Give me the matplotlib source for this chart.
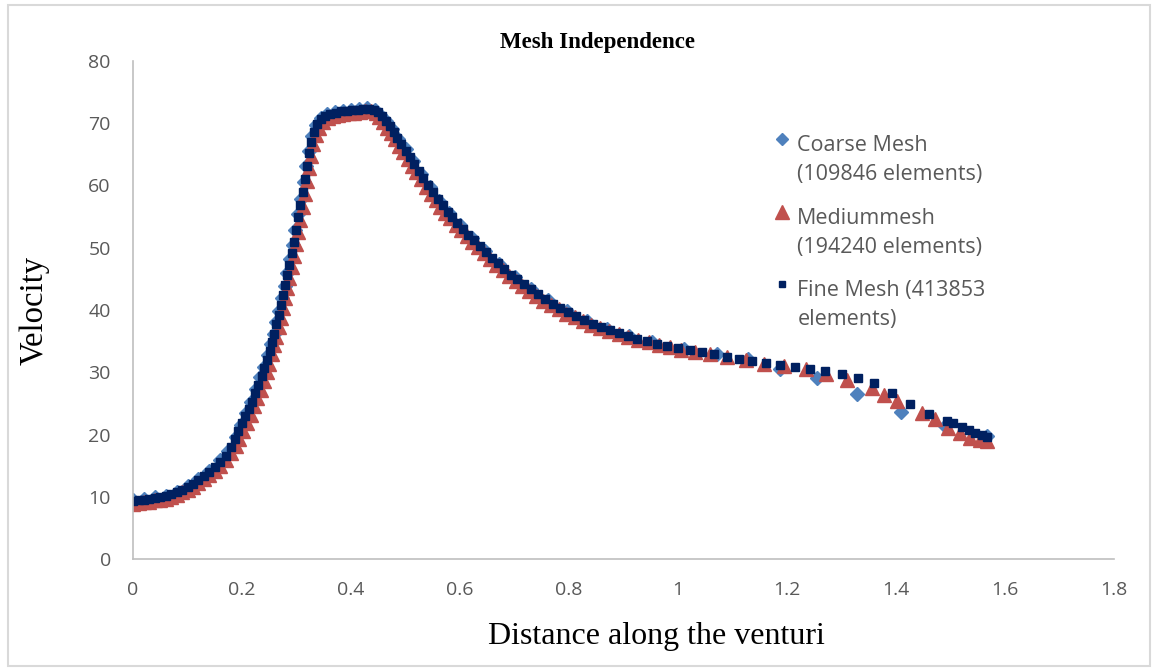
"""
Mesh independence study: velocity along the venturi for three mesh sizes.
"""

import matplotlib
matplotlib.use("Agg")
import matplotlib.pyplot as plt
from matplotlib.patches import Rectangle
from matplotlib.legend_handler import HandlerLine2D

# coarse mesh (109846 elements)
coarse_x = [0.000, 0.020, 0.040, 0.060, 0.080, 0.100, 0.120, 0.140, 0.160, 0.175,
            0.188, 0.198, 0.207, 0.216, 0.225, 0.233, 0.240, 0.247, 0.253, 0.258,
            0.263, 0.268, 0.273, 0.278, 0.283, 0.288, 0.293, 0.298, 0.303, 0.308,
            0.313, 0.318, 0.323, 0.329, 0.336, 0.345, 0.356, 0.370, 0.385, 0.400,
            0.415, 0.430, 0.443, 0.454, 0.464, 0.475, 0.487, 0.500, 0.514, 0.529,
            0.545, 0.562, 0.580, 0.600, 0.622, 0.646, 0.672, 0.700, 0.730, 0.762,
            0.796, 0.832, 0.870, 0.910, 0.952, 1.010, 1.071, 1.128, 1.187, 1.255,
            1.328, 1.409, 1.490, 1.566]
coarse_v = [9.4, 9.6, 9.9, 10.2, 10.8, 11.8, 12.9, 14.2, 15.9, 17.4,
            19.6, 21.6, 23.4, 25.3, 27.3, 29.2, 30.9, 32.7, 34.5, 36.2,
            38.0, 39.9, 41.9, 43.9, 46.0, 48.2, 50.5, 52.9, 55.4, 57.9,
            60.5, 63.1, 65.6, 67.9, 69.7, 70.9, 71.5, 71.8, 72.0, 72.2,
            72.3, 72.4, 72.2, 71.4, 70.3, 69.0, 67.5, 65.8, 63.9, 61.9,
            59.7, 57.5, 55.6, 53.6, 51.6, 49.5, 47.4, 45.3, 43.4, 41.6,
            39.8, 38.3, 37.0, 35.9, 34.9, 33.8, 33.0, 32.1, 30.6, 29.0,
            26.5, 23.6, 21.4, 19.8]

# medium mesh (194240 elements)
medium_x = [0.000, 0.010, 0.020, 0.030, 0.040, 0.050, 0.060, 0.070, 0.080, 0.090,
            0.100, 0.110, 0.120, 0.130, 0.140, 0.150, 0.160, 0.170, 0.180, 0.188,
            0.195, 0.202, 0.209, 0.216, 0.222, 0.228, 0.234, 0.240, 0.245, 0.250,
            0.255, 0.259, 0.263, 0.267, 0.271, 0.275, 0.279, 0.283, 0.287, 0.291,
            0.295, 0.299, 0.303, 0.307, 0.311, 0.315, 0.319, 0.323, 0.327, 0.331,
            0.336, 0.342, 0.349, 0.357, 0.366, 0.376, 0.386, 0.396, 0.406, 0.416,
            0.426, 0.436, 0.445, 0.452, 0.459, 0.466, 0.473, 0.480, 0.488, 0.496,
            0.504, 0.512, 0.520, 0.528, 0.537, 0.546, 0.555, 0.564, 0.573, 0.582,
            0.592, 0.602, 0.612, 0.622, 0.633, 0.644, 0.655, 0.666, 0.678, 0.690,
            0.702, 0.714, 0.727, 0.740, 0.753, 0.767, 0.781, 0.795, 0.810, 0.825,
            0.841, 0.857, 0.874, 0.891, 0.909, 0.927, 0.946, 0.965, 0.985, 1.005,
            1.031, 1.059, 1.089, 1.125, 1.158, 1.194, 1.235, 1.272, 1.310, 1.355,
            1.377, 1.401, 1.447, 1.472, 1.496, 1.517, 1.536, 1.554, 1.566]
medium_v = [8.9, 9.0, 9.1, 9.2, 9.4, 9.5, 9.7, 10.0, 10.3, 10.7,
            11.1, 11.6, 12.2, 12.8, 13.5, 14.2, 15.0, 15.9, 17.0, 18.1,
            19.3, 20.6, 21.9, 23.2, 24.5, 25.8, 27.2, 28.6, 30.0, 31.4,
            32.9, 34.3, 35.7, 37.2, 38.7, 40.3, 41.9, 43.5, 45.2, 46.9,
            48.7, 50.6, 52.5, 54.5, 56.5, 58.6, 60.7, 62.8, 64.8, 66.6,
            68.1, 69.3, 70.2, 70.8, 71.1, 71.3, 71.5, 71.6, 71.7, 71.8,
            71.9, 71.9, 71.6, 71.0, 70.2, 69.3, 68.4, 67.5, 66.4, 65.4,
            64.3, 63.2, 62.1, 61.0, 59.8, 58.7, 57.6, 56.6, 55.6, 54.7,
            53.7, 52.8, 51.9, 51.0, 50.1, 49.1, 48.2, 47.3, 46.4, 45.5,
            44.7, 43.9, 43.1, 42.3, 41.5, 40.8, 40.1, 39.4, 38.8, 38.2,
            37.6, 37.1, 36.6, 36.1, 35.6, 35.2, 34.8, 34.4, 34.0, 33.6,
            33.3, 32.9, 32.4, 31.9, 31.4, 31.0, 30.5, 29.7, 28.8, 27.4,
            26.4, 25.4, 23.4, 22.5, 21.0, 20.2, 19.5, 19.1, 18.9]

# fine mesh (413853 elements)
fine_x = [0.000, 0.010, 0.020, 0.030, 0.040, 0.050, 0.060, 0.070, 0.080, 0.090,
          0.100, 0.110, 0.120, 0.130, 0.140, 0.150, 0.160, 0.170, 0.180, 0.187,
          0.193, 0.200, 0.206, 0.212, 0.218, 0.224, 0.230, 0.236, 0.241, 0.246,
          0.251, 0.255, 0.259, 0.263, 0.267, 0.271, 0.275, 0.279, 0.283, 0.287,
          0.291, 0.295, 0.299, 0.303, 0.307, 0.311, 0.315, 0.319, 0.323, 0.327,
          0.332, 0.338, 0.345, 0.353, 0.362, 0.372, 0.382, 0.392, 0.402, 0.412,
          0.422, 0.432, 0.442, 0.450, 0.457, 0.464, 0.471, 0.478, 0.485, 0.492,
          0.500, 0.508, 0.516, 0.524, 0.532, 0.541, 0.550, 0.559, 0.568, 0.577,
          0.586, 0.595, 0.605, 0.615, 0.625, 0.636, 0.647, 0.658, 0.669, 0.681,
          0.693, 0.705, 0.717, 0.730, 0.743, 0.756, 0.770, 0.784, 0.798, 0.813,
          0.828, 0.843, 0.859, 0.875, 0.891, 0.908, 0.925, 0.943, 0.961, 0.980,
          1.000, 1.021, 1.043, 1.066, 1.089, 1.112, 1.136, 1.161, 1.187, 1.214,
          1.242, 1.270, 1.300, 1.330, 1.360, 1.392, 1.426, 1.460, 1.493, 1.505,
          1.521, 1.533, 1.545, 1.557, 1.566]
fine_v = [9.3, 9.4, 9.5, 9.6, 9.8, 9.9, 10.1, 10.4, 10.7, 11.1,
          11.6, 12.1, 12.7, 13.3, 14.0, 14.8, 15.6, 16.5, 18.0, 19.2,
          20.5, 21.8, 22.9, 24.1, 25.3, 26.6, 28.0, 29.4, 30.7, 32.0,
          33.4, 34.8, 36.2, 37.7, 39.2, 40.8, 42.4, 44.0, 45.6, 47.3,
          49.1, 51.0, 52.9, 54.9, 56.9, 59.0, 61.1, 63.2, 65.2, 67.0,
          68.6, 69.8, 70.7, 71.2, 71.5, 71.7, 71.9, 72.0, 72.1, 72.2,
          72.3, 72.3, 72.2, 71.8, 71.2, 70.4, 69.5, 68.6, 67.6, 66.6,
          65.6, 64.5, 63.4, 62.3, 61.2, 60.0, 58.9, 57.8, 56.8, 55.8,
          54.9, 54.0, 53.0, 52.1, 51.2, 50.3, 49.3, 48.4, 47.5, 46.6,
          45.7, 44.9, 44.1, 43.3, 42.5, 41.7, 41.0, 40.3, 39.6, 39.0,
          38.4, 37.8, 37.3, 36.8, 36.3, 35.8, 35.4, 35.0, 34.6, 34.2,
          33.9, 33.6, 33.3, 33.0, 32.5, 32.1, 31.8, 31.5, 31.2, 30.9,
          30.5, 30.2, 29.7, 29.1, 28.2, 26.6, 24.9, 23.3, 22.2, 21.8,
          21.2, 20.7, 20.3, 19.9, 19.6]

x_ticks = [0, 0.2, 0.4, 0.6, 0.8, 1, 1.2, 1.4, 1.6, 1.8]
x_tick_labels = ["0", "0.2", "0.4", "0.6", "0.8", "1", "1.2", "1.4", "1.6", "1.8"]
y_ticks = [0, 10, 20, 30, 40, 50, 60, 70, 80]


class FirstLineHandler(HandlerLine2D):
    """legend marker lined up with the first line of a two-line label"""
    def __init__(self, shift, **kw):
        super().__init__(**kw)
        self.shift = shift

    def create_artists(self, legend, orig_handle, xdescent, ydescent,
                       width, height, fontsize, trans):
        artists = super().create_artists(legend, orig_handle, xdescent, ydescent,
                                         width, height, fontsize, trans)
        for a in artists:
            a.set_ydata([y + self.shift for y in a.get_ydata()])
        return artists


fig = plt.figure(figsize=(11.58, 6.71), dpi=100)
ax = fig.add_axes([0.1149, 0.1669, 0.8472, 0.7422])

#plot the three meshes, finest on top
ax.plot(coarse_x, coarse_v, linestyle="none", marker="D", markersize=6.8,
        color="#4F81BD", label="Coarse Mesh\n(109846 elements)")
ax.plot(medium_x, medium_v, linestyle="none", marker="^", markersize=10.5,
        color="#C0504D", label="Mediummesh\n(194240 elements)")
ax.plot(fine_x, fine_v, linestyle="none", marker="s", markersize=5.4,
        color="#002060", label="Fine Mesh (413853\nelements)")

#axes styling
ax.set_xlim(0, 1.8)
ax.set_ylim(0, 80)
ax.set_xticks(x_ticks)
ax.set_xticklabels(x_tick_labels)
ax.set_yticks(y_ticks)
for side in ["top", "right"]:
    ax.spines[side].set_visible(False)
for side in ["left", "bottom"]:
    ax.spines[side].set_color("#BFBFBF")
    ax.spines[side].set_linewidth(1.2)
ax.tick_params(length=0, labelsize=14, labelcolor="#595959")
ax.tick_params(axis="x", pad=16)
ax.tick_params(axis="y", pad=16)
for lbl in ax.get_xticklabels() + ax.get_yticklabels():
    lbl.set_family("Open Sans")

#title and axis labels
fig.text(0.516, 0.936, "Mesh Independence", ha="center", va="center",
         family="Liberation Serif", fontweight="bold", fontsize=16.5)
fig.text(0.030, 0.538, "Velocity", ha="center", va="center", rotation=90,
         family="Liberation Serif", fontsize=23.5)
fig.text(0.567, 0.051, "Distance along the venturi", ha="center", va="center",
         family="Liberation Serif", fontsize=23)

leg = ax.legend(loc="upper left", bbox_to_anchor=(0.654, 0.851), frameon=False,
                prop={"family": "Open Sans", "size": 15.5}, labelcolor="#595959",
                handlelength=0.7, handletextpad=0.35, labelspacing=1.04,
                borderpad=0, borderaxespad=0,
                handler_map={plt.Line2D: FirstLineHandler(shift=15.5)})
for t in leg.get_texts():
    t.set_linespacing(1.5)
for h in leg.legend_handles:
    h.set_markersize(h.get_markersize() * 0.9)

#light border round the whole figure
fig.patches.append(Rectangle((0.007, 0.007), 0.986, 0.986, transform=fig.transFigure,
                             fill=False, edgecolor="#D9D9D9", linewidth=1.5))

fig.savefig("out.png", dpi=100)
